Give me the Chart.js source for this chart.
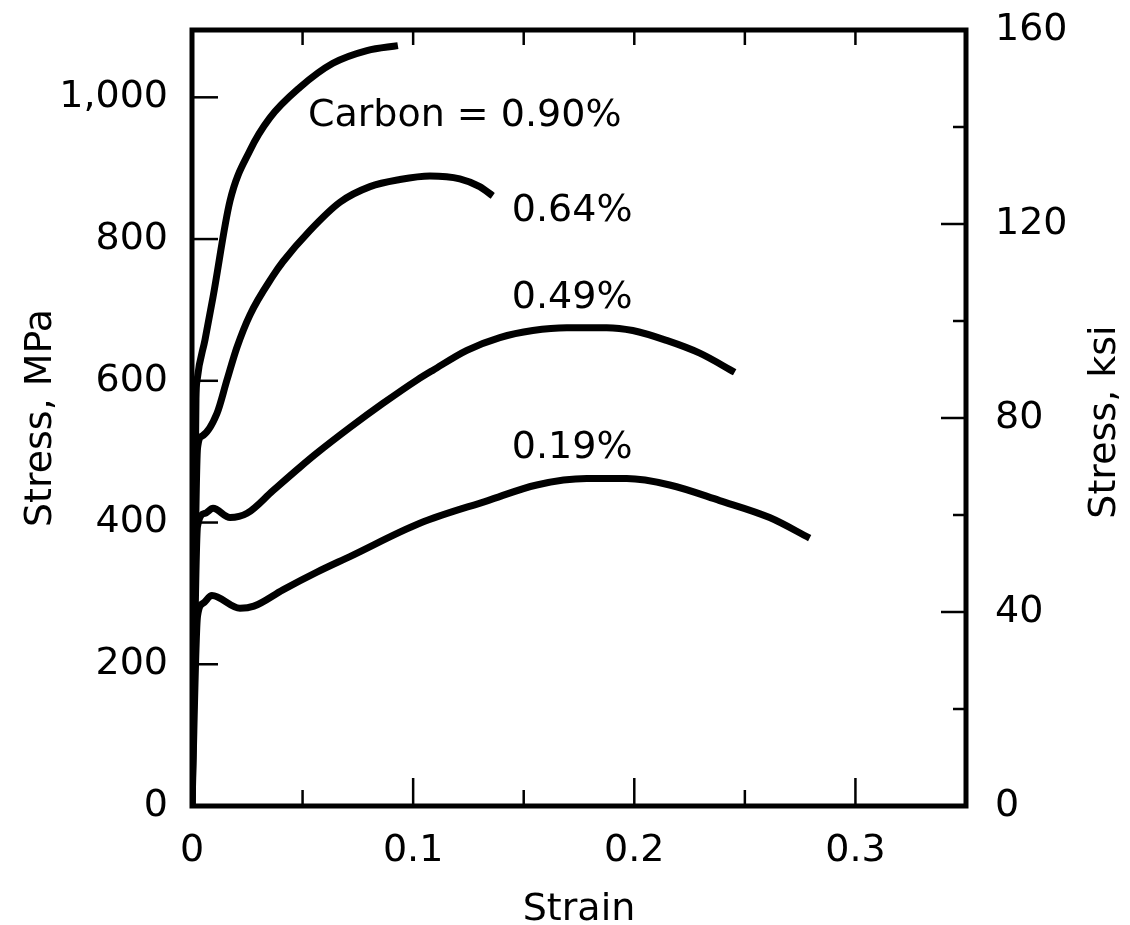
<!DOCTYPE html>
<html>
<head>
<meta charset="utf-8">
<script src="https://cdn.jsdelivr.net/npm/chart.js@4.4.0/dist/chart.umd.min.js"></script>
<style>
  html, body { margin: 0; padding: 0; background: #fff; }
  #wrap { width: 1130px; height: 925px; }
</style>
</head>
<body>
<div id="wrap"><canvas id="chart" width="1130" height="925"></canvas></div>
<script>
// Stress-strain curves of plain carbon steels
// strain (-) / stress (MPa)
const strain090 = [0, 0.0018, 0.0023, 0.0059, 0.0095, 0.0172, 0.0262, 0.0352, 0.0488, 0.0637, 0.0791, 0.0931];
const stress090 = [0, 575, 601, 658, 718, 854, 925, 971, 1014, 1048, 1066, 1073];

const strain064 = [0, 0.0025, 0.0045, 0.0113, 0.0158, 0.0203, 0.0262, 0.0366, 0.0411, 0.0533, 0.0669, 0.0805, 0.094, 0.1076, 0.1211, 0.1301, 0.136];
const stress064 = [0, 505, 522, 554, 601, 647, 693, 748, 768, 812, 852, 874, 884, 889, 885, 874, 861];

const strain049 = [0, 0.0025, 0.0059, 0.0095, 0.0172, 0.0249, 0.0366, 0.0488, 0.0565, 0.0714, 0.0863, 0.1017, 0.109, 0.1243, 0.1392, 0.1541, 0.1695, 0.1875, 0.1993, 0.2146, 0.2296, 0.2454];
const stress049 = [0, 395, 413, 420, 407, 413, 445, 478, 498, 534, 568, 601, 615, 643, 661, 671, 675, 675, 671, 657, 639, 612];

const strain019 = [0, 0.0025, 0.005, 0.009, 0.0217, 0.028, 0.0411, 0.0565, 0.0714, 0.103, 0.1338, 0.1559, 0.1785, 0.1966, 0.216, 0.2386, 0.2612, 0.2793];
const stress019 = [0, 268, 286, 297, 279, 282, 305, 330, 352, 399, 431, 453, 462, 462, 453, 431, 407, 378];

const seriesNames = ['Carbon = 0.90%', '0.64%', '0.49%', '0.19%'];

// axes
const strainTicks = [0, 0.1, 0.2, 0.3];
const strainMinorTicks = [0.05, 0.15, 0.25];
const mpaTicks = [0, 200, 400, 600, 800, 1000];
const ksiTicks = [0, 40, 80, 120, 160];
const ksiMinorTicks = [20, 60, 100, 140];
const strainMax = 0.35;
const mpaMax = 1095;
const ksiMax = 160;

// where each curve name sits (strain, MPa)
const labelAnchors = [[0.0524, 974], [0.1446, 840], [0.1446, 716], [0.1446, 505]];

const FONT = "'DejaVu Sans', 'Liberation Sans', Arial, sans-serif";
const FONT_SIZE = 38;
Chart.defaults.font.family = FONT;
Chart.defaults.color = '#000';

const toXY = (xs, ys) => xs.map((x, i) => ({ x: x, y: ys[i] }));

const curves = [
    toXY(strain090, stress090),
    toXY(strain064, stress064),
    toXY(strain049, stress049),
    toXY(strain019, stress019)
];

const datasets = curves.map((pts, i) => ({
    label: seriesNames[i],
    data: pts,
    borderColor: '#000',
    borderWidth: 7,
    pointRadius: 0,
    fill: false,
    cubicInterpolationMode: 'monotone',
    borderCapStyle: 'butt'
}));

const valueTicks = arr => scale => { scale.ticks = arr.map(v => ({ value: v })); };

// fixed axis sizes, no extra room for overhanging labels
const fixSize = (w, h) => scale => {
    if (w) scale.width = w;
    if (h) scale.height = h;
    scale.paddingTop = 0;
    scale.paddingBottom = 0;
    scale.paddingLeft = 0;
    scale.paddingRight = 0;
};

// frame, inward ticks, curve names and the right-hand title
const framePlugin = {
    id: 'frame',
    afterDatasetsDraw(chart) {
        const { ctx, chartArea: a, scales } = chart;
        const line = (x1, y1, x2, y2) => {
            ctx.beginPath();
            ctx.moveTo(x1, y1);
            ctx.lineTo(x2, y2);
            ctx.stroke();
        };
        ctx.save();
        ctx.strokeStyle = '#000';
        ctx.lineWidth = 2.5;

        strainTicks.concat(strainMinorTicks).forEach(v => {
            if (v === 0) return;
            const x = scales.x.getPixelForValue(v);
            const major = strainTicks.includes(v);
            line(x, a.bottom, x, a.bottom - (major ? 28 : 16));
            line(x, a.top, x, a.top + 15);
        });
        mpaTicks.forEach(v => {
            if (v === 0) return;
            const y = scales.y.getPixelForValue(v);
            line(a.left, y, a.left + 26, y);
        });
        ksiTicks.concat(ksiMinorTicks).forEach(v => {
            if (v === 0 || v === ksiMax) return;
            const y = scales.y2.getPixelForValue(v);
            line(a.right, y, a.right - (ksiTicks.includes(v) ? 25 : 13), y);
        });

        ctx.lineWidth = 5;
        ctx.strokeRect(a.left, a.top, a.right - a.left, a.bottom - a.top);

        ctx.fillStyle = '#000';
        ctx.font = FONT_SIZE + 'px ' + FONT;
        ctx.textAlign = 'left';
        ctx.textBaseline = 'middle';
        seriesNames.forEach((name, i) => {
            const [sx, sy] = labelAnchors[i];
            ctx.fillText(name, scales.x.getPixelForValue(sx), scales.y.getPixelForValue(sy));
        });

        ctx.translate(scales.y2.right - 25, (a.top + a.bottom) / 2 + 4);
        ctx.rotate(-Math.PI / 2);
        ctx.textAlign = 'center';
        ctx.fillText('Stress, ksi', 0, 0);
        ctx.restore();
    }
};

new Chart(document.getElementById('chart'), {
    type: 'line',
    data: { datasets: datasets },
    options: {
        responsive: false,
        devicePixelRatio: 1,
        animation: false,
        layout: { padding: { top: 30, left: 0, right: 0, bottom: 0 } },
        plugins: {
            legend: { display: false },
            tooltip: { enabled: false }
        },
        scales: {
            x: {
                type: 'linear',
                position: 'bottom',
                min: 0,
                max: strainMax,
                afterBuildTicks: valueTicks(strainTicks),
                afterFit: fixSize(0, 119),
                grid: { display: false, drawTicks: false },
                border: { display: false },
                ticks: {
                    font: { size: FONT_SIZE },
                    padding: 22,
                    maxRotation: 0,
                    autoSkip: false,
                    callback: v => v === 0 ? '0' : v.toFixed(1)
                },
                title: {
                    display: true,
                    text: 'Strain',
                    font: { size: FONT_SIZE, lineHeight: 1 },
                    padding: { top: 0, bottom: -4 }
                }
            },
            y: {
                type: 'linear',
                position: 'left',
                min: 0,
                max: mpaMax,
                afterBuildTicks: valueTicks(mpaTicks),
                afterFit: fixSize(192, 0),
                grid: { display: false, drawTicks: false },
                border: { display: false },
                ticks: {
                    font: { size: FONT_SIZE },
                    padding: 24,
                    callback: v => v.toLocaleString('en-US')
                },
                title: {
                    display: true,
                    text: 'Stress, MPa',
                    font: { size: FONT_SIZE, lineHeight: 1 },
                    padding: { top: 22, bottom: 0 }
                }
            },
            y2: {
                type: 'linear',
                position: 'right',
                min: 0,
                max: ksiMax,
                afterBuildTicks: valueTicks(ksiTicks),
                afterFit: fixSize(164, 0),
                grid: { display: false, drawTicks: false },
                border: { display: false },
                ticks: {
                    font: { size: FONT_SIZE },
                    padding: 29
                }
            }
        }
    },
    plugins: [framePlugin]
});
</script>
</body>
</html>
